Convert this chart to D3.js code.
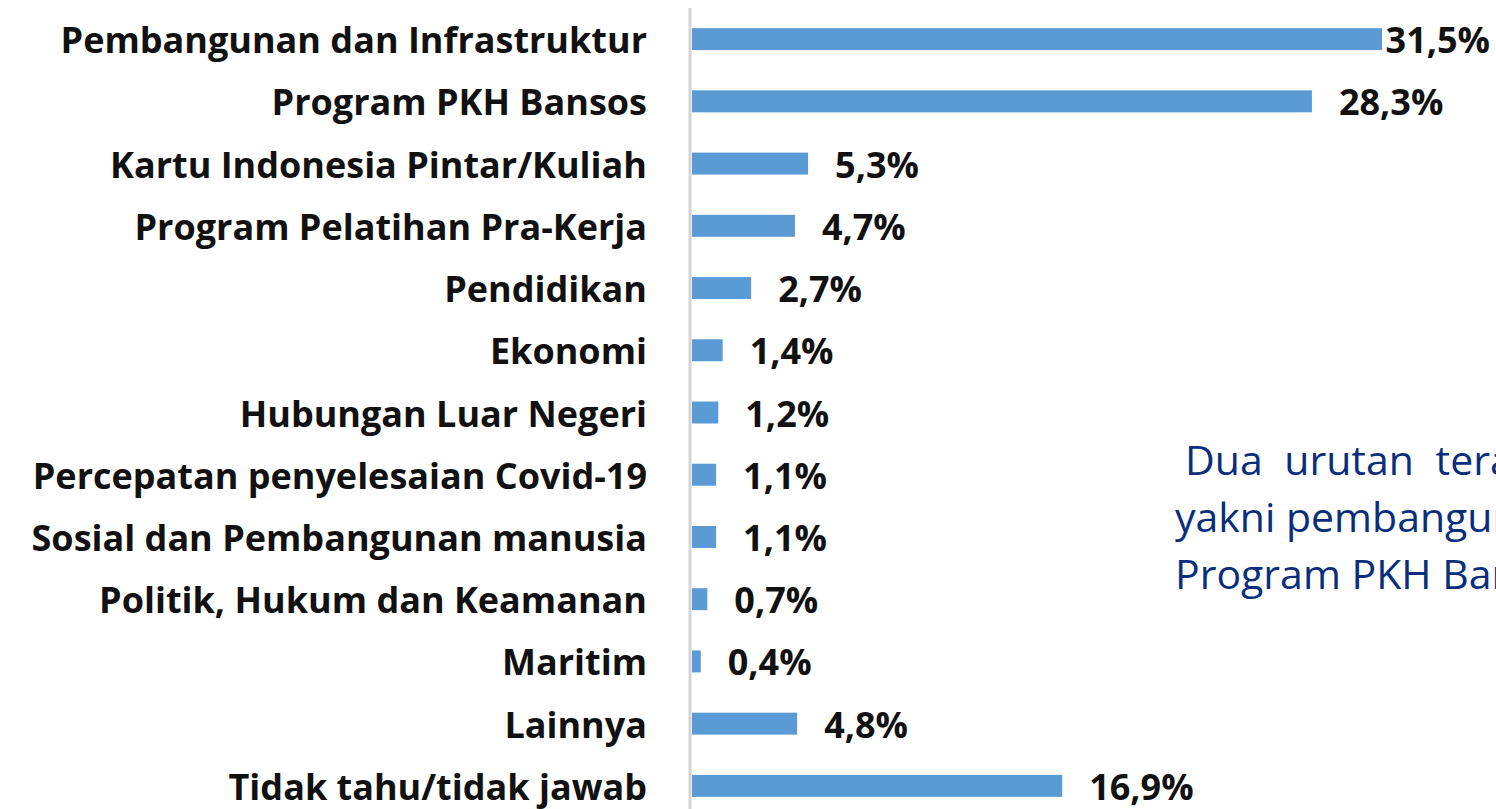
<!DOCTYPE html>
<html>
<head>
<meta charset="utf-8">
<script src="https://cdn.jsdelivr.net/npm/d3@7"></script>
<style>
  html, body { margin: 0; padding: 0; background: #ffffff; }
  svg { display: block; }
</style>
</head>
<body>
<svg id="chart" width="1496" height="809"></svg>
<script>
// Survey categories (top to bottom) and their shares in percent
const categories = [
  "Pembangunan dan Infrastruktur",
  "Program PKH Bansos",
  "Kartu Indonesia Pintar/Kuliah",
  "Program Pelatihan Pra-Kerja",
  "Pendidikan",
  "Ekonomi",
  "Hubungan Luar Negeri",
  "Percepatan penyelesaian Covid-19",
  "Sosial dan Pembangunan manusia",
  "Politik, Hukum dan Keamanan",
  "Maritim",
  "Lainnya",
  "Tidak tahu/tidak jawab"
];
const values = [31.5, 28.3, 5.3, 4.7, 2.7, 1.4, 1.2, 1.1, 1.1, 0.7, 0.4, 4.8, 16.9];

// Side note text, one entry per line (first line is justified, hence wider gaps)
const noteLines = [
  "Dua urutan teratas program yang diketahui",
  "yakni pembangunan dan infrastruktur serta",
  "Program PKH Bansos"
];
const noteWordSpacing = [11, 0, 0];

const svg = d3.select("#chart");
const W = 1496, H = 809;

const x = d3.scaleLinear().domain([0, 31.5]).range([692, 1382]);
const y = d3.scaleBand()
  .domain(categories)
  .range([8, 817])
  .paddingInner(0.647)
  .paddingOuter(0.3235);

const labelFont = "'Open Sans', 'Noto Sans', sans-serif";

// vertical axis line
svg.append("line")
  .attr("x1", 690).attr("x2", 690)
  .attr("y1", 8).attr("y2", H)
  .attr("stroke", "#d4d4d4")
  .attr("stroke-width", 3);

// bars
svg.append("g").selectAll("rect")
  .data(values)
  .join("rect")
  .attr("x", x(0))
  .attr("y", (d, i) => y(categories[i]))
  .attr("width", d => x(d) - x(0))
  .attr("height", y.bandwidth())
  .attr("fill", "#5b9bd5");

// category labels (right-aligned against the axis)
svg.append("g").selectAll("text")
  .data(categories)
  .join("text")
  .attr("x", 647)
  .attr("y", d => y(d) + y.bandwidth() / 2 + 14)
  .attr("text-anchor", "end")
  .attr("font-family", labelFont)
  .attr("font-weight", 700)
  .attr("font-size", 36)
  .attr("fill", "#111")
  .text(d => d);

// value labels; kept inside the canvas when the bar is long
const fmt = v => v.toFixed(1).replace(".", ",") + "%";
svg.append("g").selectAll("text")
  .data(values)
  .join("text")
  .attr("y", (d, i) => y(categories[i]) + y.bandwidth() / 2 + 14)
  .attr("font-family", labelFont)
  .attr("font-weight", 700)
  .attr("font-size", 36)
  .attr("fill", "#111")
  .text(d => fmt(d))
  .each(function (d) {
    const w = this.getComputedTextLength();
    const xs = Math.min(x(d) + 27, W - 6 - w);
    d3.select(this).attr("x", Math.max(xs, x(d)));
  });

// side note
svg.append("g").selectAll("text")
  .data(noteLines)
  .join("text")
  .attr("x", (d, i) => [1185, 1175, 1175][i])
  .attr("y", (d, i) => 475 + i * 57)
  .attr("font-family", labelFont)
  .attr("font-size", 41)
  .attr("word-spacing", (d, i) => noteWordSpacing[i])
  .attr("fill", "#0a2e7c")
  .text(d => d);
</script>
</body>
</html>
